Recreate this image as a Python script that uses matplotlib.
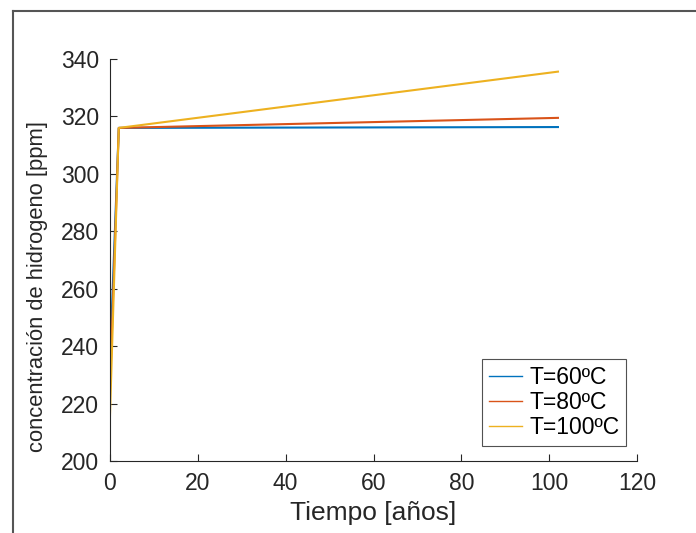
import matplotlib
matplotlib.use("Agg")
import matplotlib.pyplot as plt
from matplotlib.lines import Line2D

# data
tiempo = [0, 2, 102]
conc_60 = [235, 316, 316.3]
conc_80 = [225, 316, 319.5]
conc_100 = [216, 316, 335.6]
etiquetas = ["T=60ºC", "T=80ºC", "T=100ºC"]
colores = ["#0072BD", "#D95319", "#EDB120"]

plt.rcParams['font.family'] = ['Liberation Sans', 'DejaVu Sans']

fig = plt.figure(figsize=(6.96, 5.33), dpi=100)
ax = fig.add_axes([110 / 696, 1 - 461 / 533, 527 / 696, 402 / 533])

for y, lab, c in zip([conc_60, conc_80, conc_100], etiquetas, colores):
    ax.plot(tiempo, y, color=c, lw=1.5, label=lab)

ax.set_xlim(0, 120)
ax.set_ylim(200, 340)
ax.set_xticks(range(0, 121, 20))
ax.set_yticks(range(200, 341, 20))

for s in ['top', 'right']:
    ax.spines[s].set_visible(False)
for s in ['left', 'bottom']:
    ax.spines[s].set_color('#262626')
    ax.spines[s].set_linewidth(0.8)
ax.tick_params(direction='in', length=5, width=0.8, colors='#262626',
               labelsize=16.5, pad=8)

ax.set_xlabel("Tiempo [años]", fontsize=19, color='#262626', labelpad=4)
ax.set_ylabel("concentración de hidrogeno [ppm]", fontsize=15.8, color='#262626')
ax.yaxis.set_label_coords(-0.118, 0.433)

leg = ax.legend(loc='lower right', bbox_to_anchor=(626 / 696, 1 - 446 / 533),
                bbox_transform=fig.transFigure, fontsize=16.5, frameon=True,
                fancybox=False, handlelength=1.45, borderpad=0.3,
                labelspacing=0.1, handletextpad=0.3, borderaxespad=0)
leg.get_frame().set_edgecolor('#262626')
leg.get_frame().set_linewidth(0.8)
for h in leg.get_lines():
    h.set_linewidth(1.0)

# outer frame of the screenshot
fig.add_artist(Line2D([12.5 / 696, 1], [1 - 10.5 / 533, 1 - 10.5 / 533],
                      transform=fig.transFigure, color='#555555', lw=1.5))
fig.add_artist(Line2D([12.5 / 696, 12.5 / 696], [0, 1 - 10.5 / 533],
                      transform=fig.transFigure, color='#555555', lw=1.5))

fig.savefig("out.png", dpi=100)
